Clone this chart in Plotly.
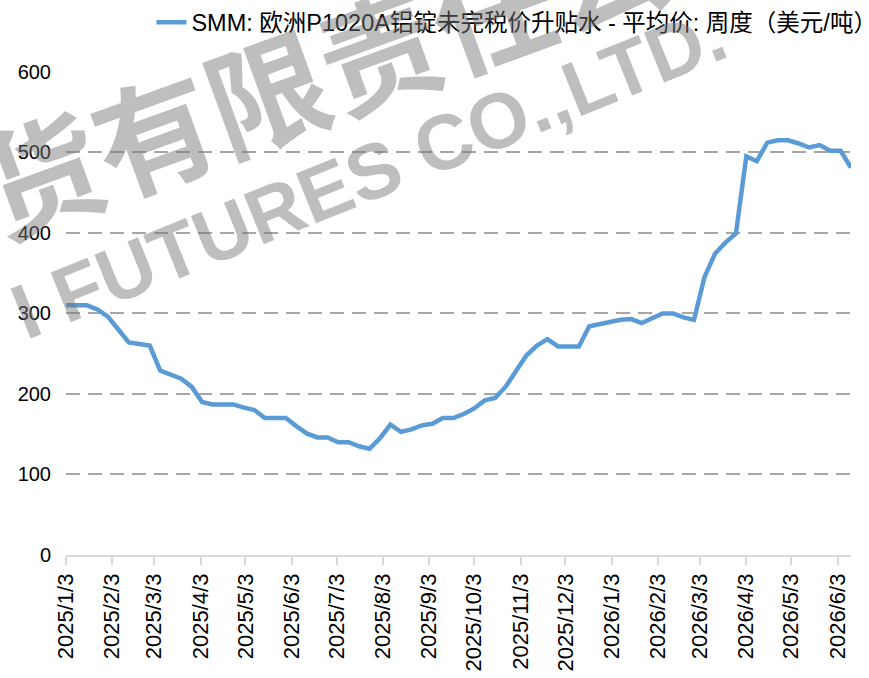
import pandas as pd
import plotly.graph_objects as go

# Weekly observations (Fridays) starting 2025/1/3
start_date = "2025-01-03"
values = [310, 310, 310, 305, 296, 280, 264, 262, 260, 229,
          224, 219, 209, 190, 187, 187, 187, 183, 180, 170,
          170, 170, 160, 151, 146, 146, 140, 140, 135, 132,
          145, 162, 153, 156, 161, 163, 170, 170, 175, 182,
          192, 195, 209, 228, 248, 260, 268, 259, 259, 259,
          284, 287, 290, 292, 293, 288, 294, 300, 300, 295,
          292, 345, 374, 388, 399, 495, 489, 512, 515, 515,
          511, 506, 509, 502, 502, 481]
series_name = "SMM: 欧洲P1020A铝锭未完税价升贴水 - 平均价: 周度（美元/吨）"

tick_dates = ["2025-01-03", "2025-02-03", "2025-03-03", "2025-04-03", "2025-05-03",
              "2025-06-03", "2025-07-03", "2025-08-03", "2025-09-03", "2025-10-03",
              "2025-11-03", "2025-12-03", "2026-01-03", "2026-02-03", "2026-03-03",
              "2026-04-03", "2026-05-03", "2026-06-03"]
tick_labels = ["2025/1/3", "2025/2/3", "2025/3/3", "2025/4/3", "2025/5/3",
               "2025/6/3", "2025/7/3", "2025/8/3", "2025/9/3", "2025/10/3",
               "2025/11/3", "2025/12/3", "2026/1/3", "2026/2/3", "2026/3/3",
               "2026/4/3", "2026/5/3", "2026/6/3"]
y_ticks = [0, 100, 200, 300, 400, 500, 600]

dates = pd.date_range(start_date, periods=len(values), freq="7D")

FONT = "Liberation Sans, Noto Sans CJK SC, sans-serif"

fig = go.Figure()
fig.add_trace(go.Scatter(
    x=dates, y=values, mode="lines", name=series_name,
    line=dict(color="#5B9BD5", width=4.5),
))

wm_color = "rgba(120,120,120,0.48)"
fig.add_annotation(text="<b>货有限责任公司</b>", xref="paper", yref="paper",
                   x=0.398, y=1.05, xanchor="center", yanchor="middle",
                   showarrow=False, textangle=-20,
                   font=dict(family="Noto Sans CJK SC", size=120, color=wm_color))
fig.add_annotation(text="<b>I FUTURES CO.,LTD.</b>", xref="paper", yref="paper",
                   x=0.385, y=0.79, xanchor="center", yanchor="middle",
                   showarrow=False, textangle=-22,
                   font=dict(family="Liberation Sans", size=78, color=wm_color))

fig.update_layout(
    width=869, height=678,
    margin=dict(l=66, r=18, t=71, b=123, autoexpand=False),
    plot_bgcolor="white", paper_bgcolor="white",
    font=dict(family=FONT, color="black"),
    showlegend=True,
    legend=dict(orientation="h", x=1.04, xref="paper", xanchor="right",
                y=0.967, yref="container", yanchor="middle",
                font=dict(family=FONT, size=23.5, color="black"),
                bgcolor="rgba(0,0,0,0)"),
    xaxis=dict(
        type="date", automargin=False,
        range=[dates[0], dates[-1]],
        tickvals=tick_dates, ticktext=tick_labels, tickangle=-90,
        tickfont=dict(family=FONT, size=22, color="black"),
        showgrid=False, showline=True, linecolor="#D9D9D9", linewidth=1.5,
        ticks="outside", ticklen=8, tickcolor="#D9D9D9", tickwidth=1.5,
        zeroline=False,
    ),
    yaxis=dict(
        automargin=False,
        range=[0, 601], tickvals=y_ticks,
        tickfont=dict(family=FONT, size=20, color="black"),
        showgrid=True, gridcolor="#A6A6A6", gridwidth=1.5, griddash="14px,8px",
        zeroline=True, zerolinecolor="#D9D9D9", zerolinewidth=1.5,
        showline=False, ticks="", ticklabelstandoff=14,
    ),
)

fig.write_html("out.html", config={"displayModeBar": False},
               post_script="document.body.style.margin='0';document.body.style.overflow='hidden';")
